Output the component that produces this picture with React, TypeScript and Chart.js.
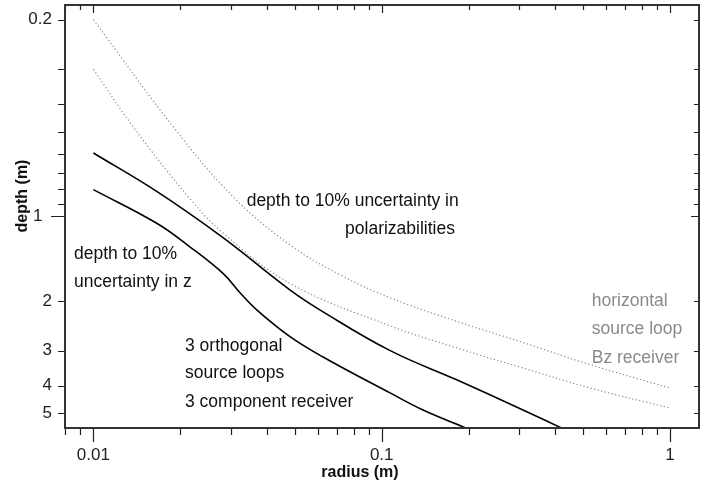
import React, { useEffect, useRef } from "react";
import { Chart, registerables } from "chart.js";

Chart.register(...registerables);

// ---- axis ticks ----
const xTickValues = [0.008, 0.009, 0.01, 0.02, 0.03, 0.04, 0.05, 0.06, 0.07, 0.08, 0.09, 0.1, 0.2, 0.3, 0.4, 0.5, 0.6, 0.7, 0.8, 0.9, 1];
const xTickLabels = [0.01, 0.1, 1];
const xMajorTicks = [0.01, 0.1, 1];
const yTickValues = [0.2, 0.3, 0.4, 0.5, 0.6, 0.7, 0.8, 0.9, 1, 2, 3, 4, 5];
const yTickLabels = [0.2, 1, 2, 3, 4, 5];
const yMajorTicks = [1];

// ---- horizontal source loop, Bz receiver (dotted) ----
const hlUpperRadius = [0.01, 0.0192, 0.0305, 0.048, 0.0717, 0.107, 0.182, 0.309, 0.528, 1];
const hlUpperDepth = [0.2, 0.49, 0.851, 1.261, 1.612, 1.947, 2.361, 2.807, 3.364, 4.073];
const hlLowerRadius = [0.01, 0.01375, 0.02154, 0.02815, 0.048, 0.107, 0.182, 0.309, 0.528, 1];
const hlLowerDepth = [0.3, 0.481, 0.862, 1.145, 1.728, 2.449, 2.934, 3.457, 4.073, 4.797];

// ---- 3 orthogonal source loops, 3 component receiver (solid) ----
const orthUpperRadius = [0.01, 0.01658, 0.02815, 0.048, 0.0626, 0.107, 0.182, 0.309, 0.425];
const orthUpperDepth = [0.595, 0.815, 1.19, 1.824, 2.184, 3.0, 3.81, 4.876, 5.68];
const orthLowerRadius = [0.01, 0.01658, 0.02154, 0.02815, 0.03225, 0.03684, 0.04807, 0.06257, 0.1069, 0.1391, 0.2];
const orthLowerDepth = [0.8035, 1.058, 1.28, 1.595, 1.869, 2.148, 2.675, 3.16, 4.24, 4.877, 5.7];

// ---- annotations (text, radius at left edge, depth at baseline, colour) ----
const annotationTexts = [
  "depth to 10% uncertainty in",
  "polarizabilities",
  "depth to 10%",
  "uncertainty in z",
  "3 orthogonal",
  "source loops",
  "3 component receiver",
  "horizontal",
  "source loop",
  "Bz receiver",
];
const annotationRadius = [0.034, 0.0746, 0.00856, 0.00856, 0.02078, 0.02078, 0.02078, 0.535, 0.535, 0.535];
const annotationDepth = [0.916, 1.152, 1.418, 1.775, 3.0, 3.761, 4.747, 2.079, 2.627, 3.318];
const annotationGray = [false, false, false, false, false, false, false, true, true, true];

const FONT = "'Liberation Sans', Arial, Helvetica, sans-serif";

function pts(xs: number[], ys: number[]) {
  return xs.map((x, i) => ({ x, y: ys[i] }));
}

const framePlugin = {
  id: "framePlugin",
  afterDatasetsDraw(chart: any) {
    const { ctx, scales } = chart;
    const xs = scales.x;
    const ys = scales.y;
    ctx.save();
    ctx.font = `17.5px ${FONT}`;
    ctx.textAlign = "left";
    ctx.textBaseline = "alphabetic";
    annotationTexts.forEach((t, i) => {
      ctx.fillStyle = annotationGray[i] ? "#8a8a8a" : "#111";
      ctx.fillText(t, xs.getPixelForValue(annotationRadius[i]), ys.getPixelForValue(annotationDepth[i]));
    });
    ctx.restore();
  },
  afterDraw(chart: any) {
    const { ctx, chartArea: a, scales } = chart;
    const xs = scales.x;
    const ys = scales.y;
    ctx.save();
    // ticks
    ctx.strokeStyle = "#222";
    ctx.lineWidth = 1.2;
    ctx.beginPath();
    xTickValues.forEach((v) => {
      const px = Math.round(xs.getPixelForValue(v)) + 0.5;
      if (px < a.left - 1 || px > a.right + 1) return;
      const major = xMajorTicks.includes(v);
      ctx.moveTo(px, a.bottom);
      ctx.lineTo(px, a.bottom + (major ? 14 : 7));
      ctx.moveTo(px, a.top);
      ctx.lineTo(px, a.top + (major ? 8 : 5));
    });
    yTickValues.forEach((v) => {
      const py = Math.round(ys.getPixelForValue(v)) + 0.5;
      if (py < a.top - 1 || py > a.bottom + 1) return;
      const major = yMajorTicks.includes(v);
      ctx.moveTo(a.left, py);
      ctx.lineTo(a.left - (major ? 14 : 7), py);
      ctx.moveTo(a.right, py);
      ctx.lineTo(a.right - (major ? 8 : 5), py);
    });
    ctx.stroke();
    // frame
    ctx.strokeStyle = "#333";
    ctx.lineWidth = 2;
    ctx.strokeRect(a.left, a.top, a.right - a.left, a.bottom - a.top);
    // axis titles
    ctx.fillStyle = "#111";
    ctx.font = `bold 16px ${FONT}`;
    ctx.textAlign = "center";
    ctx.textBaseline = "middle";
    ctx.fillText("radius (m)", 360, 473);
    ctx.translate(23, 196);
    ctx.rotate(-Math.PI / 2);
    ctx.fillText("depth (m)", 0, 0);
    ctx.restore();
  },
};

export default function App() {
  const canvasRef = useRef<HTMLCanvasElement | null>(null);

  useEffect(() => {
    const canvas = canvasRef.current;
    if (!canvas) return;
    const dotted = { borderColor: "#8a8a8a", borderWidth: 1.2, borderDash: [1.2, 2.4] };
    const solid = { borderColor: "#000", borderWidth: 1.6 };
    const common = { pointRadius: 0, tension: 0.4, fill: false };
    const chart = new Chart(canvas, {
      type: "line",
      data: {
        datasets: [
          { label: "horizontal loop (upper)", data: pts(hlUpperRadius, hlUpperDepth), ...dotted, ...common },
          { label: "horizontal loop (lower)", data: pts(hlLowerRadius, hlLowerDepth), ...dotted, ...common },
          { label: "3 loops (upper)", data: pts(orthUpperRadius, orthUpperDepth), ...solid, ...common },
          { label: "3 loops (lower)", data: pts(orthLowerRadius, orthLowerDepth), ...solid, ...common },
        ],
      },
      options: {
        responsive: false,
        animation: false,
        devicePixelRatio: 1,
        layout: { padding: { top: 5, right: 8, left: 0, bottom: 0 } },
        plugins: { legend: { display: false }, tooltip: { enabled: false } },
        scales: {
          x: {
            type: "logarithmic",
            min: 0.00797,
            max: 1.26,
            afterBuildTicks: (s: any) => {
              s.ticks = xTickValues.map((v) => ({ value: v }));
            },
            afterFit: (s: any) => {
              s.height = 60;
              s.paddingLeft = 0;
              s.paddingRight = 0;
            },
            ticks: {
              autoSkip: false,
              maxRotation: 0,
              minRotation: 0,
              padding: 3,
              color: "#222",
              font: { family: FONT, size: 17 },
              callback: (v: any) => (xTickLabels.includes(Number(v)) ? String(v) : ""),
            },
            grid: { display: true, drawOnChartArea: false, drawTicks: true, tickLength: 14, color: "rgba(0,0,0,0)" },
            border: { display: false },
          },
          y: {
            type: "logarithmic",
            reverse: true,
            min: 0.1773,
            max: 5.65,
            afterBuildTicks: (s: any) => {
              s.ticks = yTickValues.map((v) => ({ value: v }));
            },
            afterFit: (s: any) => {
              s.width = 65;
              s.paddingTop = 0;
              s.paddingBottom = 0;
            },
            ticks: {
              autoSkip: false,
              padding: 6,
              color: "#222",
              font: { family: FONT, size: 17 },
              callback: (v: any) => {
                const n = Number(v);
                if (!yTickLabels.includes(n)) return "";
                return yMajorTicks.includes(n) ? String(n) + "\u2007" : String(n);
              },
            },
            grid: { display: true, drawOnChartArea: false, drawTicks: true, tickLength: 7, color: "rgba(0,0,0,0)" },
            border: { display: false },
          },
        },
      },
      plugins: [framePlugin],
    });
    return () => chart.destroy();
  }, []);

  return (
    <div style={{ position: "absolute", left: 0, top: 0, width: 707, height: 488, background: "#fff" }}>
      <canvas ref={canvasRef} width={707} height={488} style={{ display: "block" }} />
    </div>
  );
}
